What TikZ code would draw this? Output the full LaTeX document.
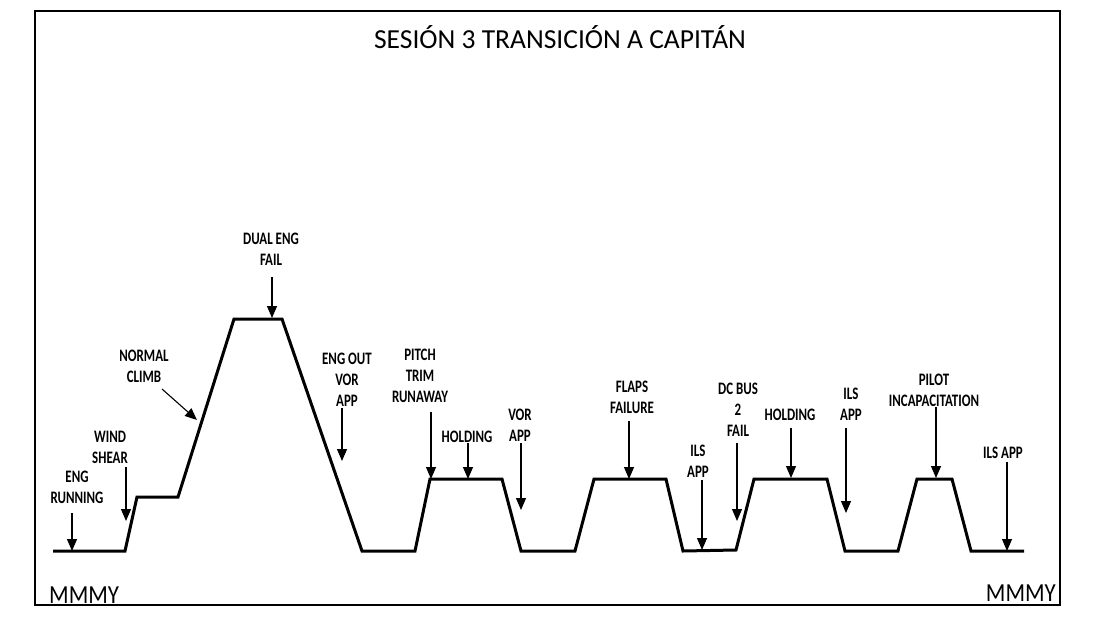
\documentclass[tikz,border=0pt]{standalone}
\usepackage{fontspec}
\setmainfont{Carlito}
\newfontfamily\labfont[FakeStretch=0.74]{Carlito}
\newfontfamily\cornerfont[FakeStretch=0.88]{Carlito}
\usetikzlibrary{arrows.meta}
\tikzset{
  lbl/.style={inner sep=0pt, align=center, font=\labfont\bfseries\fontsize{17.5}{21}\selectfont},
  arr/.style={line width=1.1pt, -{Triangle[width=10pt,length=12pt]}},
  path/.style={line width=3pt, line join=miter},
  corner/.style={font=\cornerfont\fontsize{26}{30}\selectfont, inner sep=0pt}
}
\begin{document}
\begin{tikzpicture}[x=1pt,y=-1pt]
\useasboundingbox (0,0) rectangle (1109,624);
\fill[white] (0,0) rectangle (1109,624);
\draw[line width=2.8pt] (35,11) rectangle (1060,605);
\node[font=\fontsize{27.5}{32}\selectfont, inner sep=0pt] (title) at (560,37) {SESIÓN 3 TRANSICIÓN A CAPITÁN};
\node[corner, anchor=west] (mleft) at (49,595) {MMMY};
\node[corner, anchor=east] (mright) at (1056,593) {MMMY};
% profile
\draw[path] (53,551) -- (125,551) -- (137,497) -- (178,497) -- (234,319) -- (282,319)
  -- (362,551) -- (415,551) -- (430,479) -- (502,479) -- (521,551) -- (575,551)
  -- (594,479) -- (666,479) -- (683,551) -- (736,550) -- (754,479) -- (827,479)
  -- (845,551) -- (898,551) -- (917,479) -- (952,479) -- (971,551) -- (1024,551);
% labels
\node[lbl] (l1) at (77,487) {ENG\\RUNNING};
\node[lbl] (l2) at (110,447) {WIND\\SHEAR};
\node[lbl] (l3) at (144,366) {NORMAL\\CLIMB};
\node[lbl] (l4) at (271,249) {DUAL ENG\\FAIL};
\node[lbl] (l5) at (347,380) {ENG OUT\\VOR\\APP};
\node[lbl] (l6) at (420,376) {PITCH\\TRIM\\RUNAWAY};
\node[lbl] (l7) at (467,437) {HOLDING};
\node[lbl] (l8) at (520,425) {VOR\\APP};
\node[lbl] (l9) at (632,397) {FLAPS\\FAILURE};
\node[lbl] (l10) at (698,461) {ILS\\APP};
\node[lbl] (l11) at (738,410) {DC BUS\\2\\FAIL};
\node[lbl] (l12) at (790,415) {HOLDING};
\node[lbl] (l13) at (851,404) {ILS\\APP};
\node[lbl] (l14) at (934,390) {PILOT\\INCAPACITATION};
\node[lbl] (l15) at (1003,453) {ILS APP};
% arrow ends
\coordinate (s1) at (72,513);  \coordinate (e1) at (72,551);
\coordinate (s2) at (126,467); \coordinate (e2) at (126,521);
\coordinate (s3) at (162,389); \coordinate (e3) at (197,420);
\coordinate (s4) at (272,277); \coordinate (e4) at (272,318);
\coordinate (s5) at (342,408); \coordinate (e5) at (342,461);
\coordinate (s6) at (431,412); \coordinate (e6) at (431,479);
\coordinate (s7) at (468,443); \coordinate (e7) at (468,479);
\coordinate (s8) at (521,443); \coordinate (e8) at (521,510);
\coordinate (s9) at (629,421); \coordinate (e9) at (629,479);
\coordinate (s10) at (702,480); \coordinate (e10) at (702,550);
\coordinate (s11) at (737,443); \coordinate (e11) at (737,521);
\coordinate (s12) at (791,428); \coordinate (e12) at (791,478);
\coordinate (s13) at (846,428); \coordinate (e13) at (846,513);
\coordinate (s14) at (936,407); \coordinate (e14) at (936,478);
\coordinate (s15) at (1007,462); \coordinate (e15) at (1007,551);
\foreach \i in {1,...,15} { \draw[arr] (s\i) -- (e\i); }
\end{tikzpicture}
\end{document}
